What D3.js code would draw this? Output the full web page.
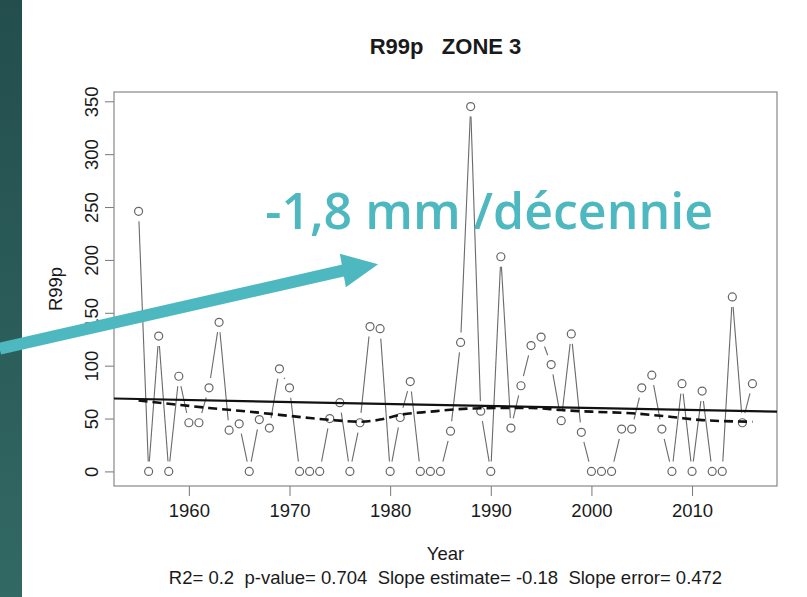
<!DOCTYPE html>
<html>
<head>
<meta charset="utf-8">
<title>R99p zone 3</title>
<script src="https://d3js.org/d3.v7.min.js"></script>
<style>
  body { margin: 0; background: #fff; }
  text { font-family: "Liberation Sans", Arial, sans-serif; fill: #1a1a1a; }
  .tick line { stroke: #777; }
</style>
</head>
<body>
<div id="chart"></div>
<script>

// R99p per year, zone 3
var years = [1955, 1956, 1957, 1958, 1959, 1960, 1961, 1962, 1963, 1964,
             1965, 1966, 1967, 1968, 1969, 1970, 1971, 1972, 1973, 1974,
             1975, 1976, 1977, 1978, 1979, 1980, 1981, 1982, 1983, 1984,
             1985, 1986, 1987, 1988, 1989, 1990, 1991, 1992, 1993, 1994,
             1995, 1996, 1997, 1998, 1999, 2000, 2001, 2002, 2003, 2004,
             2005, 2006, 2007, 2008, 2009, 2010, 2011, 2012, 2013, 2014,
             2015, 2016]
var values = [246, 0, 128, 0, 90, 46, 46, 79, 141, 39,
              45, 0, 49, 41, 97, 79, 0, 0, 0, 50,
              65, 0, 46, 137, 135, 0, 51, 85, 0, 0,
              0, 38, 122, 345, 57, 0, 203, 41, 81, 119,
              127, 101, 48, 130, 37, 0, 0, 0, 40, 40,
              79, 91, 40, 0, 83, 0, 76, 0, 0, 165,
              46, 83]

// smoothed curve (dashed)
var smoothYears  = [1955, 1959, 1962, 1966, 1969, 1972, 1975, 1977, 1979, 1981,
                    1984, 1988, 1991, 1994, 1997, 2000, 2004, 2008, 2011, 2016]
var smoothValues = [67, 63, 60, 56.5, 53.5, 50.5, 48, 47, 49, 53.5,
                    56.5, 59.5, 60, 60, 58, 56.5, 55, 51.5, 48.5, 47]

var xTicks = [1960, 1970, 1980, 1990, 2000, 2010]
var yTicks = [0, 50, 100, 150, 200, 250, 300, 350]

var titleText = 'R99p   ZONE 3'
var statsText = 'R2= 0.2  p-value= 0.704  Slope estimate= -0.18  Slope error= 0.472'
var noteText = '-1,8 mm /décennie'

const width = 807
const height = 597
const plotL = 114, plotR = 777, plotT = 92, plotB = 486
const fs = '18.5px'

var svg = d3.select('#chart').append('svg')
  .attr('width', width)
  .attr('height', height)

// slide side panel
var grad = svg.append('defs').append('linearGradient')
  .attr('id', 'panel').attr('x1', 0).attr('y1', 0).attr('x2', 0).attr('y2', 1)
grad.append('stop').attr('offset', '0%').attr('stop-color', '#234e4d')
grad.append('stop').attr('offset', '100%').attr('stop-color', '#326964')
svg.append('rect').attr('x', 0).attr('y', 0).attr('width', 22).attr('height', height)
  .attr('fill', 'url(#panel)')

// R style ranges: extent +/- 4%
var xExt = d3.extent(years)
var xPad = (xExt[1] - xExt[0]) * 0.04
var yMax = d3.max(values)
var yPad = yMax * 0.04

var x = d3.scaleLinear().domain([xExt[0] - xPad, xExt[1] + xPad]).range([plotL, plotR])
var y = d3.scaleLinear().domain([0 - yPad, yMax + yPad]).range([plotB, plotT])

// axes
var yAxis = svg.append('g')
  .attr('transform', 'translate(' + plotL + ',0)')
  .call(d3.axisLeft(y).tickValues(yTicks).tickSize(9))
yAxis.select('.domain').remove()
yAxis.selectAll('text')
  .attr('transform', 'rotate(-90)')
  .attr('x', 0).attr('y', -16).attr('dy', 0)
  .attr('text-anchor', 'middle')
  .style('font-size', fs)
  .style('font-family', '"Liberation Sans", Arial, sans-serif')

var xAxis = svg.append('g')
  .attr('transform', 'translate(0,' + plotB + ')')
  .call(d3.axisBottom(x).tickValues(xTicks).tickSize(10).tickFormat(d3.format('d')))
xAxis.select('.domain').remove()
xAxis.selectAll('text')
  .attr('y', 31).attr('dy', 0)
  .style('font-size', fs)
  .style('font-family', '"Liberation Sans", Arial, sans-serif')

svg.append('rect')
  .attr('x', plotL).attr('y', plotT)
  .attr('width', plotR - plotL).attr('height', plotB - plotT)
  .attr('fill', 'none').attr('stroke', '#888').attr('stroke-width', 1.2)

// clip for lines running across the plot
svg.append('clipPath').attr('id', 'plotclip').append('rect')
  .attr('x', plotL).attr('y', plotT).attr('width', plotR - plotL).attr('height', plotB - plotT)

var pts = years.map((yr, i) => ({ year: yr, v: values[i], px: x(yr), py: y(values[i]) }))

// type = "b" : segments leave a gap around each point
const gap = 10
var segs = []
for (var i = 0; i < pts.length - 1; i++) {
  var a = pts[i], b = pts[i + 1]
  var dx = b.px - a.px, dy = b.py - a.py
  var len = Math.sqrt(dx * dx + dy * dy)
  if (len > 2 * gap) {
    var ux = dx / len, uy = dy / len
    segs.push([a.px + ux * gap, a.py + uy * gap, b.px - ux * gap, b.py - uy * gap])
  }
}
svg.append('g').selectAll('line')
  .data(segs)
  .enter().append('line')
  .attr('x1', d => d[0]).attr('y1', d => d[1])
  .attr('x2', d => d[2]).attr('y2', d => d[3])
  .attr('stroke', '#6a6a6a').attr('stroke-width', 1.1)

svg.append('g').selectAll('circle')
  .data(pts)
  .enter().append('circle')
  .attr('cx', d => d.px).attr('cy', d => d.py)
  .attr('r', 4)
  .attr('fill', '#fff').attr('stroke', '#666').attr('stroke-width', 1.2)

// linear trend (least squares)
var mx = d3.mean(years), my = d3.mean(values)
var sxy = d3.sum(years, (yr, i) => (yr - mx) * (values[i] - my))
var sxx = d3.sum(years, yr => (yr - mx) * (yr - mx))
var slope = sxy / sxx
var dom = x.domain()
var trend = d3.line().x(d => x(d)).y(d => y(my + slope * (d - mx)))
svg.append('path')
  .datum(dom)
  .attr('clip-path', 'url(#plotclip)')
  .attr('d', trend)
  .attr('fill', 'none').attr('stroke', '#111').attr('stroke-width', 2.2)

// smoothed curve
var smooth = d3.line()
  .x((d, i) => x(smoothYears[i]))
  .y(d => y(d))
  .curve(d3.curveMonotoneX)
svg.append('path')
  .datum(smoothValues)
  .attr('d', smooth)
  .attr('fill', 'none').attr('stroke', '#111').attr('stroke-width', 2.6)
  .attr('stroke-dasharray', '9,5')

// texts
svg.append('text')
  .attr('x', (plotL + plotR) / 2).attr('y', 54)
  .attr('text-anchor', 'middle')
  .style('font-size', '22px').style('font-weight', 'bold')
  .style('white-space', 'pre')
  .text(titleText)

svg.append('text')
  .attr('transform', 'translate(62,' + (plotT + plotB) / 2 + ') rotate(-90)')
  .attr('text-anchor', 'middle')
  .style('font-size', fs)
  .text('R99p')

svg.append('text')
  .attr('x', (plotL + plotR) / 2).attr('y', 560)
  .attr('text-anchor', 'middle')
  .style('font-size', fs)
  .text('Year')

svg.append('text')
  .attr('x', (plotL + plotR) / 2).attr('y', 584)
  .attr('text-anchor', 'middle')
  .style('font-size', fs)
  .style('white-space', 'pre')
  .text(statsText)

// annotation arrow + trend note
const teal = '#4db8bf'
var aStart = [x(1941.2), y(116)]
var aBase = [x(1975.3), y(190)]
var aTip = [x(1978.8), y(196)]
var hx = aTip[0] - aBase[0], hy = aTip[1] - aBase[1]
var hl = Math.sqrt(hx * hx + hy * hy)
var nx = -hy / hl, ny = hx / hl
const headHalf = 17

svg.append('line')
  .attr('x1', aStart[0]).attr('y1', aStart[1])
  .attr('x2', aBase[0] + hx / hl * 2).attr('y2', aBase[1] + hy / hl * 2)
  .attr('stroke', teal).attr('stroke-width', 12)

svg.append('path')
  .attr('d', 'M' + aTip + 'L' + [aBase[0] + nx * headHalf, aBase[1] + ny * headHalf] +
             'L' + [aBase[0] - nx * headHalf, aBase[1] - ny * headHalf] + 'Z')
  .attr('fill', teal)

svg.append('text')
  .attr('x', x(1967.6)).attr('y', y(229))
  .style('font-family', '"Open Sans", sans-serif')
  .style('font-weight', 600)
  .style('font-size', '50px')
  .style('fill', teal)
  .text(noteText)

</script>
</body>
</html>
